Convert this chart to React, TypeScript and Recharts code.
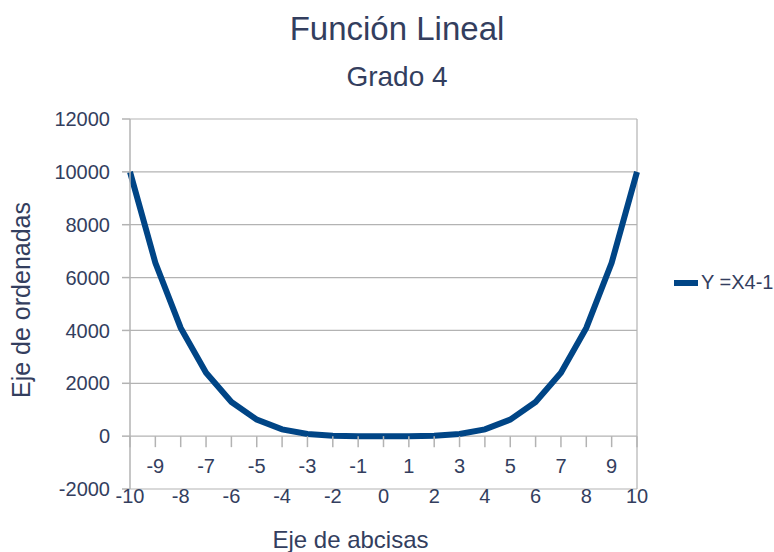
import { LineChart, Line, XAxis, YAxis, CartesianGrid, ReferenceLine, Legend, Label } from 'recharts'

const xValues = [-10, -9, -8, -7, -6, -5, -4, -3, -2, -1, 0, 1, 2, 3, 4, 5, 6, 7, 8, 9, 10]
const yValues = [9999, 6560, 4095, 2400, 1295, 624, 255, 80, 15, 0, -1, 0, 15, 80, 255, 624, 1295, 2400, 4095, 6560, 9999]
const yTicks = [-2000, 0, 2000, 4000, 6000, 8000, 10000, 12000]
const seriesName = 'Y =X4-1'

const data = xValues.map((x, i) => ({ x, y: yValues[i] }))

const W = 774
const H = 552
const TOP = 119
const BOTTOM = 63
const textColor = '#333e5e'
const gridColor = '#b3b3b3'
const lineColor = '#004586'
const font = '"Liberation Sans", Arial, sans-serif'

const plotH = H - TOP - BOTTOM
const yMin = yTicks[0]
const yMax = yTicks[yTicks.length - 1]
// distance from bottom of plot to the y=0 line, where the x axis crosses
const zeroOffset = plotH * (0 - yMin) / (yMax - yMin)

function XTick(props: any) {
    const { x, y, payload } = props
    const v = payload.value
    const odd = Math.abs(v) % 2 === 1
    const axisY = y - zeroOffset
    return (
        <g>
            <line x1={x} x2={x} y1={axisY} y2={axisY + 11} stroke={gridColor} strokeWidth={1.5} />
            <text x={x} y={odd ? y - 16 : y + 14} textAnchor="middle" fill={textColor} fontSize={20} fontFamily={font}>
                {v}
            </text>
        </g>
    )
}

function LegendBox() {
    return (
        <div style={{ display: 'flex', alignItems: 'center', fontFamily: font, fontSize: 20, color: textColor, whiteSpace: 'nowrap' }}>
            <span style={{ display: 'inline-block', width: 24, height: 6, background: lineColor, marginRight: 3 }} />
            <span>{seriesName}</span>
        </div>
    )
}

export default function App() {
    return (
        <div style={{ position: 'absolute', left: 0, top: 0, width: W, height: H, background: '#fff' }}>
            <div style={{ position: 'absolute', left: 0, top: 10, width: 794, textAlign: 'center', fontFamily: font, fontSize: 33, color: textColor }}>
                Función Lineal
            </div>
            <div style={{ position: 'absolute', left: 0, top: 61, width: 794, textAlign: 'center', fontFamily: font, fontSize: 28, color: textColor }}>
                Grado 4
            </div>
            <LineChart width={W} height={H} data={data} margin={{ top: TOP, right: 37, left: 0, bottom: BOTTOM - 30 }}>
                <CartesianGrid vertical={false} stroke={gridColor} strokeWidth={1.2} />
                <XAxis
                    dataKey="x"
                    type="number"
                    domain={[-10, 10]}
                    ticks={xValues}
                    interval={0}
                    axisLine={false}
                    tickLine={false}
                    tickSize={0}
                    tickMargin={0}
                    height={30}
                    tick={<XTick />}
                >
                    <Label
                        content={(p: any) => (
                            <text x={p.viewBox.x + p.viewBox.width / 2 - 33} y={p.viewBox.y + 59} textAnchor="middle" fill={textColor} fontSize={24} fontFamily={font}>
                                Eje de abcisas
                            </text>
                        )}
                    />
                </XAxis>
                <YAxis
                    width={130}
                    domain={[yMin, yMax]}
                    ticks={yTicks}
                    interval={0}
                    axisLine={{ stroke: gridColor, strokeWidth: 1.5 }}
                    tickLine={{ stroke: gridColor, strokeWidth: 1.5 }}
                    tickSize={8}
                    tickMargin={12}
                    tick={{ fill: textColor, fontSize: 20, fontFamily: font }}
                >
                    <Label
                        content={(p: any) => {
                            const cx = 30
                            const cy = p.viewBox.y + p.viewBox.height / 2 - 4
                            return (
                                <text x={cx} y={cy} transform={`rotate(-90 ${cx} ${cy})`} textAnchor="middle" fill={textColor} fontSize={25} fontFamily={font}>
                                    Eje de ordenadas
                                </text>
                            )
                        }}
                    />
                </YAxis>
                <ReferenceLine x={10} stroke={gridColor} strokeWidth={1.2} />
                <Legend
                    layout="vertical"
                    align="right"
                    verticalAlign="middle"
                    width={100}
                    wrapperStyle={{ left: 674, top: 271 }}
                    content={<LegendBox />}
                />
                <Line type="linear" dataKey="y" name={seriesName} stroke={lineColor} strokeWidth={6} dot={false} isAnimationActive={false} />
            </LineChart>
        </div>
    )
}
